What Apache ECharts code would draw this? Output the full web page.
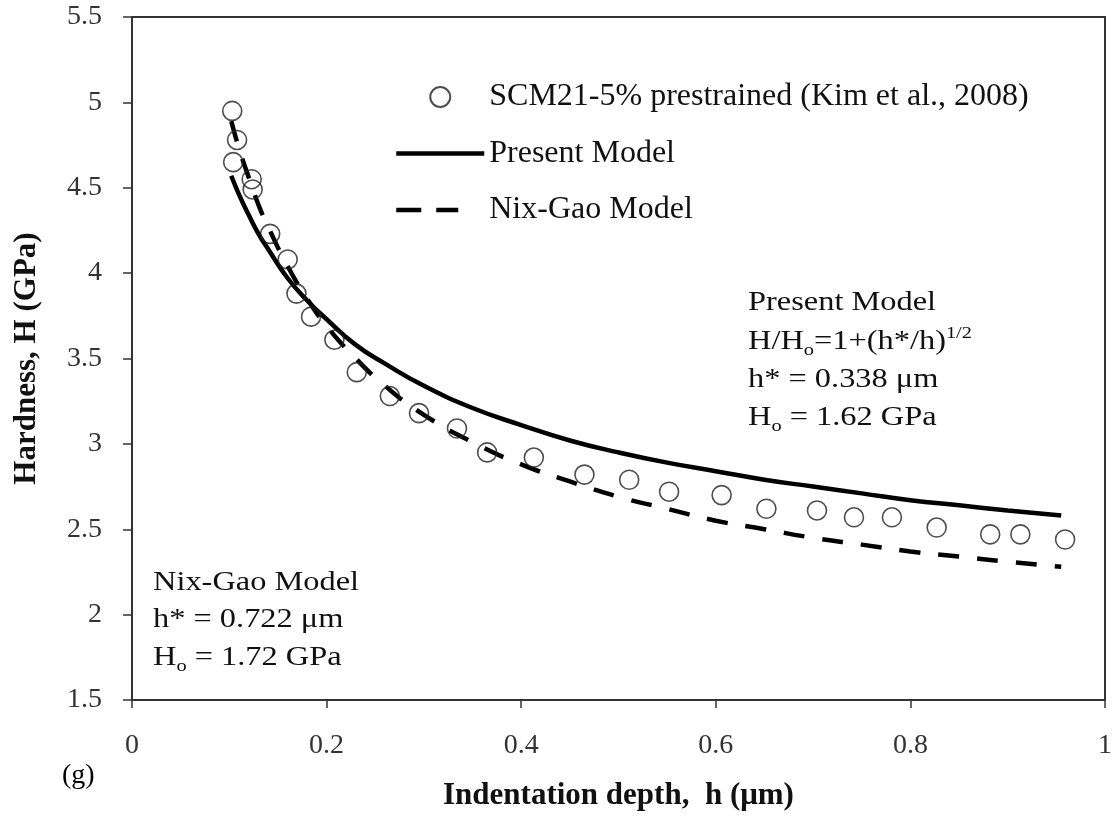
<!DOCTYPE html>
<html>
<head>
<meta charset="utf-8">
<script src="https://cdn.jsdelivr.net/npm/echarts@6/dist/echarts.min.js"></script>
<style>
  html, body { margin: 0; padding: 0; background: #fff; }
  #chart { width: 1115px; height: 819px; }
</style>
</head>
<body>
<div id="chart"></div>
<script>
// Experimental data: SCM21-5% prestrained (Kim et al., 2008)
const expDepth = [0.103, 0.108, 0.104, 0.123, 0.124, 0.142, 0.160, 0.169, 0.184, 0.208, 0.231, 0.265,
                  0.295, 0.334, 0.365, 0.413, 0.465, 0.511, 0.552, 0.606, 0.652, 0.704, 0.742, 0.781,
                  0.827, 0.882, 0.913, 0.959];
const expHardness = [4.95, 4.78, 4.65, 4.55, 4.49, 4.23, 4.08, 3.88, 3.745, 3.61, 3.42, 3.28,
                     3.18, 3.09, 2.95, 2.92, 2.82, 2.79, 2.72, 2.70, 2.62, 2.61, 2.57, 2.57,
                     2.51, 2.47, 2.47, 2.44];

// Model curves
const modelDepth = [0.102, 0.11, 0.12, 0.13, 0.14, 0.16, 0.18, 0.20, 0.23, 0.26, 0.30, 0.35, 0.40,
                    0.45, 0.50, 0.55, 0.60, 0.65, 0.70, 0.75, 0.80, 0.85, 0.90, 0.955];
const presentHardness = [4.57, 4.46, 4.34, 4.23, 4.14, 3.97, 3.84, 3.73, 3.58, 3.47, 3.34, 3.21, 3.11,
                         3.02, 2.95, 2.89, 2.84, 2.79, 2.75, 2.71, 2.67, 2.64, 2.61, 2.58];
const nixGaoHardness = [4.89, 4.73, 4.56, 4.40, 4.27, 4.04, 3.85, 3.69, 3.50, 3.34, 3.17, 3.01, 2.88,
                        2.78, 2.69, 2.62, 2.55, 2.50, 2.45, 2.41, 2.37, 2.34, 2.31, 2.28];

const seriesNames = ['SCM21-5% prestrained (Kim et al., 2008)', 'Present Model', 'Nix-Gao Model'];
const xAxisTitle = 'Indentation depth,  h (μm)';
const yAxisTitle = 'Hardness, H (GPa)';

const pair = (xs, ys) => xs.map((x, i) => [x, ys[i]]);
const SERIF = '"Liberation Serif", "Times New Roman", serif';

const chart = echarts.init(document.getElementById('chart'), null, { renderer: 'canvas' });

const richSub = {
  a: { fontSize: 27, fontFamily: SERIF, color: '#111', lineHeight: 34 },
  s: { fontSize: 17, fontFamily: SERIF, color: '#111', lineHeight: 18, verticalAlign: 'bottom' },
  p: { fontSize: 17, fontFamily: SERIF, color: '#111', lineHeight: 18, verticalAlign: 'top' }
};
function label(x, y, text) {
  return {
    type: 'text', x: x, y: y, scaleX: 1.2, silent: true,
    style: { text: text, rich: richSub, fontFamily: SERIF, fontSize: 27, fill: '#111',
             verticalAlign: 'middle', align: 'left' }
  };
}

chart.setOption({
  backgroundColor: '#fff',
  animation: false,
  grid: { left: 132, right: 8, top: 17, bottom: 119, show: true, borderColor: '#333', borderWidth: 2 },
  xAxis: {
    type: 'value', min: 0, max: 1, interval: 0.2,
    name: xAxisTitle, nameLocation: 'middle', nameGap: 80,
    nameTextStyle: { fontFamily: SERIF, fontWeight: 'bold', fontSize: 31, color: '#111' },
    axisLine: { lineStyle: { color: '#333', width: 2 } },
    axisTick: { show: true, inside: false, length: 8, lineStyle: { color: '#333', width: 1.5 } },
    axisLabel: { margin: 32, fontFamily: SERIF, fontSize: 28, color: '#333' },
    splitLine: { show: false }
  },
  yAxis: {
    type: 'value', min: 1.5, max: 5.5, interval: 0.5,
    name: yAxisTitle, nameLocation: 'middle', nameGap: 90, nameRotate: 90,
    nameTextStyle: { fontFamily: SERIF, fontWeight: 'bold', fontSize: 31, color: '#111' },
    axisLine: { lineStyle: { color: '#333', width: 2 } },
    axisTick: { show: true, inside: false, length: 9, lineStyle: { color: '#333', width: 1.5 } },
    axisLabel: { margin: 30, fontFamily: SERIF, fontSize: 28, color: '#333' },
    splitLine: { show: false }
  },
  legend: {
    orient: 'vertical', left: 389, top: 76,
    itemWidth: 88, itemHeight: 20, itemGap: 24.5,
    lineStyle: { width: 4.5 },
    textStyle: { fontFamily: SERIF, fontSize: 32, color: '#111', lineHeight: 32 },
    data: [
      { name: seriesNames[0] },
      { name: seriesNames[1] },
      { name: seriesNames[2], lineStyle: { width: 4.5, type: [25, 15, 22, 40] } }
    ]
  },
  series: [
    {
      name: seriesNames[1], type: 'line', data: pair(modelDepth, presentHardness),
      smooth: true, symbol: 'none', z: 2,
      lineStyle: { color: '#000', width: 4.5, type: 'solid' },
      itemStyle: { color: 'rgba(0,0,0,0)', borderWidth: 0 }
    },
    {
      name: seriesNames[2], type: 'line', data: pair(modelDepth, nixGaoHardness),
      smooth: true, symbol: 'none', z: 2,
      lineStyle: { color: '#000', width: 4.5, type: [21, 18] },
      itemStyle: { color: 'rgba(0,0,0,0)', borderWidth: 0 }
    },
    {
      name: seriesNames[0], type: 'scatter', data: pair(expDepth, expHardness),
      symbol: 'circle', symbolSize: 19, z: 3,
      itemStyle: { color: 'rgba(255,255,255,0)', borderColor: '#222', borderWidth: 1.6 }
    }
  ],
  graphic: [
    label(748, 303, '{a|Present Model}'),
    label(748, 342, '{a|H/H}{s|o}{a|=1+(h*/h)}{p|1/2}'),
    label(748, 380, '{a|h* = 0.338 μm}'),
    label(748, 418, '{a|H}{s|o}{a| = 1.62 GPa}'),
    label(153, 583, '{a|Nix-Gao Model}'),
    label(153, 620, '{a|h* = 0.722 μm}'),
    label(153, 658, '{a|H}{s|o}{a| = 1.72 GPa}'),
    {
      type: 'text', x: 62, y: 776, silent: true,
      style: { text: '(g)', fontFamily: SERIF, fontSize: 28, fill: '#000', verticalAlign: 'middle' }
    }
  ]
});
</script>
</body>
</html>
